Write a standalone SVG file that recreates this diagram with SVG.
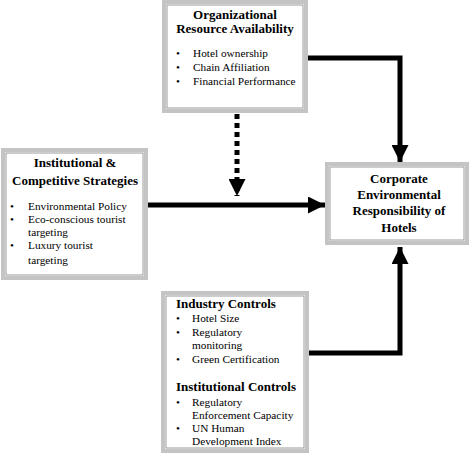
<svg xmlns="http://www.w3.org/2000/svg" width="473" height="455" viewBox="0 0 473 455">
<style>
.box{fill:#fff;stroke:#c4c4c4;stroke-width:4}
.inner{fill:none;stroke:#9a9a9a;stroke-width:1}
text{font-family:"Liberation Serif","Times New Roman",serif;fill:#000}
.t{font-weight:bold;font-size:13px}
.b{font-size:11.3px}
.c{text-anchor:middle}
.line{fill:none;stroke:#000;stroke-width:5}
</style>
<defs>
<marker id="ah" viewBox="0 0 10 10" refX="10" refY="5" markerWidth="3.4" markerHeight="3.4" orient="auto" markerUnits="strokeWidth">
<path d="M0,0 L10,5 L0,10 Z" fill="#000"/>
</marker>
</defs>
<g id="connectors">
<path class="line" d="M305,58 H400 V162" marker-end="url(#ah)"/>
<path class="line" d="M305,353 H400 V247" marker-end="url(#ah)"/>
<path class="line" d="M147,205 H325" marker-end="url(#ah)"/>
<path class="line" d="M237,114 V196" stroke-dasharray="5,4" marker-end="url(#ah)"/>
</g>
<g id="org">
<rect class="box" x="164" y="2" width="142" height="109"/>
<rect class="inner" x="167" y="5" width="136" height="103"/>
<text class="t c" x="235" y="19">Organizational</text>
<text class="t c" x="235" y="33">Resource Availability</text>
<text class="b" x="176" y="57">•</text><text class="b" x="193" y="57">Hotel ownership</text>
<text class="b" x="176" y="71">•</text><text class="b" x="193" y="71">Chain Affiliation</text>
<text class="b" x="176" y="85">•</text><text class="b" x="193" y="85">Financial Performance</text>
</g>
<g id="inst">
<rect class="box" x="3" y="150" width="143" height="128"/>
<rect class="inner" x="6" y="153" width="137" height="122"/>
<text class="t c" x="75" y="167">Institutional &amp;</text>
<text class="t c" x="75" y="185">Competitive Strategies</text>
<text class="b" x="10" y="210">•</text><text class="b" x="28" y="210">Environmental Policy</text>
<text class="b" x="10" y="223">•</text><text class="b" x="28" y="223">Eco-conscious tourist</text>
<text class="b" x="28" y="236">targeting</text>
<text class="b" x="10" y="249">•</text><text class="b" x="28" y="249">Luxury tourist</text>
<text class="b" x="28" y="264">targeting</text>
</g>
<g id="cer">
<rect class="box" x="327" y="164" width="140" height="79"/>
<rect class="inner" x="330" y="167" width="134" height="73"/>
<text class="t c" x="399" y="183">Corporate</text>
<text class="t c" x="399" y="199">Environmental</text>
<text class="t c" x="399" y="215">Responsibility of</text>
<text class="t c" x="399" y="232">Hotels</text>
</g>
<g id="controls">
<rect class="box" x="163" y="293" width="144" height="158"/>
<rect class="inner" x="166" y="296" width="138" height="152"/>
<text class="t" x="176" y="308">Industry Controls</text>
<text class="b" x="176" y="322">•</text><text class="b" x="192" y="322">Hotel Size</text>
<text class="b" x="176" y="336">•</text><text class="b" x="192" y="336">Regulatory</text>
<text class="b" x="192" y="349">monitoring</text>
<text class="b" x="176" y="363">•</text><text class="b" x="192" y="363">Green Certification</text>
<text class="t" x="176" y="391">Institutional Controls</text>
<text class="b" x="176" y="406">•</text><text class="b" x="192" y="406">Regulatory</text>
<text class="b" x="192" y="419">Enforcement Capacity</text>
<text class="b" x="176" y="432">•</text><text class="b" x="192" y="432">UN Human</text>
<text class="b" x="192" y="445">Development Index</text>
</g>
</svg>
